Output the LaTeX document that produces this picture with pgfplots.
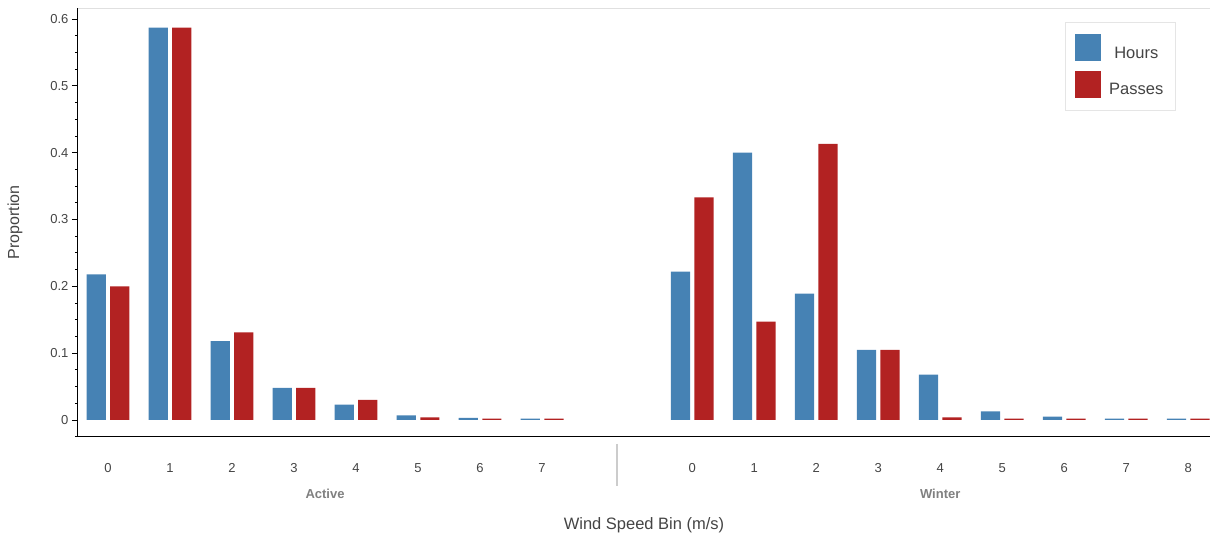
\documentclass[border=0pt]{standalone}
\usepackage{pgfplots}
\pgfplotsset{compat=1.18}
\usepackage{fontspec}
\setmainfont{Liberation Sans}
\definecolor{hblue}{HTML}{4682B4}
\definecolor{pred}{HTML}{B22222}
\definecolor{lab}{HTML}{444444}
\begin{document}
\begin{tikzpicture}
\useasboundingbox (-78pt,-103pt) rectangle (1135pt,437pt);
\begin{axis}[name=ax, at={(0pt,0pt)}, anchor=south west,
  scale only axis, width=1132pt, height=429pt,
  xmin=-0.484, xmax=17.77, ymin=-0.0255, ymax=0.6165,
  axis x line*=bottom, axis y line*=left,
  axis line style={black, line width=1pt},
  ybar, bar width=0.31, 
  xtick={0,1,2,3,4,5,6,7,9.42,10.42,11.42,12.42,13.42,14.42,15.42,16.42,17.42},
  xticklabels={0,1,2,3,4,5,6,7,0,1,2,3,4,5,6,7,8},
  xtick style={draw=none},
  xticklabel style={yshift=-17pt, font=\fontsize{13}{15}\selectfont, text=lab},
  ytick={0,0.1,0.2,0.3,0.4,0.5,0.6},
  yticklabels={0,0.1,0.2,0.3,0.4,0.5,0.6},
  minor ytick={-0.025,0.025,0.05,0.075,0.125,0.15,0.175,0.225,0.25,0.275,0.325,0.35,0.375,0.425,0.45,0.475,0.525,0.55,0.575},
  tick align=outside, major tick length=6pt, minor tick length=3pt,
  ytick style={black, line width=0.8pt}, minor tick style={black, line width=0.6pt},
  yticklabel style={font=\fontsize{13}{15}\selectfont, text=lab},
  ylabel={Proportion}, ylabel style={font=\fontsize{16}{18}\selectfont, text=lab, at={(-52pt,0.5)}, anchor=south},
  xlabel={Wind Speed Bin (m/s)}, xlabel style={font=\fontsize{16.5}{18}\selectfont, text=lab, at={(0.5,-88pt)}, anchor=center},
  legend style={at={(987pt,415pt)}, anchor=north west, draw=black!10, fill=white,
    font=\fontsize{16.5}{19}\selectfont, text=lab, inner xsep=10pt, inner ysep=12pt, row sep=9pt,
    /tikz/every even column/.append style={column sep=4pt}},
  legend image code/.code={\fill[#1] (0pt,-8pt) rectangle (26pt,19pt);},
  clip=false,
]
\addplot[fill=hblue, draw=none, bar shift=-0.19] coordinates {
(0,0.218)(1,0.587)(2,0.118)(3,0.048)(4,0.023)(5,0.007)(6,0.003)(7,0.002)
(9.42,0.222)(10.42,0.400)(11.42,0.189)(12.42,0.105)(13.42,0.068)(14.42,0.013)(15.42,0.005)(16.42,0.002)(17.42,0.002)};
\addlegendentry{\hspace{6pt}Hours}
\addplot[fill=pred, draw=none, bar shift=0.19] coordinates {
(0,0.200)(1,0.587)(2,0.131)(3,0.048)(4,0.030)(5,0.004)(6,0.002)(7,0.002)
(9.42,0.333)(10.42,0.147)(11.42,0.413)(12.42,0.105)(13.42,0.004)(14.42,0.002)(15.42,0.002)(16.42,0.002)(17.42,0.002)};
\addlegendentry{\hspace{6pt}Passes}
\draw[black!20, line width=1.5pt] ([yshift=-7pt]axis cs:8.21,-0.0255) -- ([yshift=-49pt]axis cs:8.21,-0.0255);
\node[font=\bfseries\fontsize{13}{15}\selectfont, text=gray] at ([yshift=-57pt]axis cs:3.5,-0.0255) {Active};
\node[font=\bfseries\fontsize{13}{15}\selectfont, text=gray] at ([yshift=-57pt]axis cs:13.42,-0.0255) {Winter};
\draw[black!12] (rel axis cs:0,1) -- (rel axis cs:1,1);
\end{axis}
\end{tikzpicture}
\end{document}
